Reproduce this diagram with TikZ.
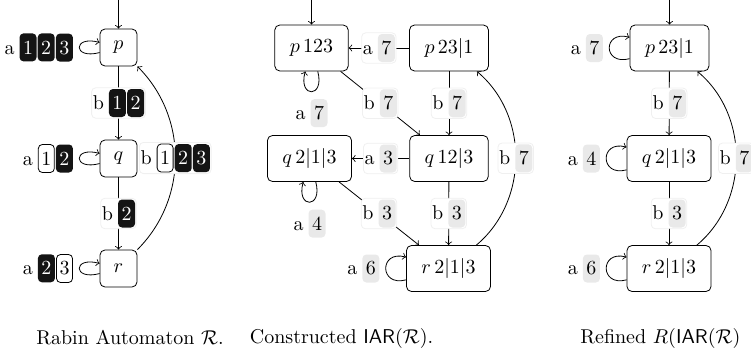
\documentclass[tikz,border=0pt]{standalone}
\usepackage{amsmath}
\definecolor{taggray}{gray}{0.915}
\tikzset{
  sbox/.style={draw, rounded corners=2.5pt, minimum size=18.5pt, inner sep=0pt},
  wbox/.style={draw, rounded corners=2.5pt, minimum height=23pt, inner xsep=7.5pt, inner ysep=0pt},
  elab/.style={fill=white, draw=black!6, rounded corners=2pt, inner sep=0.6pt},
  llab/.style={inner sep=3pt},
  digbox/.style={rounded corners=2pt, minimum height=14pt, minimum width=8.5pt, inner sep=0pt},
  sloop/.style={distance=14pt},
}
% colour-coded priority boxes set inline in the labels
\newcommand\digk[1]{\tikz[baseline=(dgt.base)]\node[digbox,fill=black!92,text=white](dgt){#1};}
\newcommand\digw[1]{\tikz[baseline=(dgt.base)]\node[digbox,draw,fill=white,minimum width=8pt](dgt){#1};}
\newcommand\digg[1]{\tikz[baseline=(dgt.base)]\node[digbox,fill=taggray](dgt){#1};}
\newcommand\dsep{\hspace{0.6pt}}
\newcommand\lsep{\hspace{2.5pt}}
\begin{document}
\begin{tikzpicture}[x=0.5pt,y=0.5pt]
\useasboundingbox (0,0) rectangle (751,-354);

% ---- Rabin automaton
\node[sbox] (p) at (118.5,-47.5) {$p$};
\node[sbox] (q) at (118.5,-158.5) {$q$};
\node[sbox] (r) at (118.5,-268.5) {$r$};
\coordinate (i1) at (118.5,0);
\draw[->] (i1) -- (p);
\draw[->] (p) to[loop left,sloop] node[llab,left] (lp) {a\lsep\digk{1}\dsep\digk{2}\dsep\digk{3}} (p);
\draw[->] (q) to[loop left,sloop] node[llab,left] (lq) {a\lsep\digw{1}\dsep\digk{2}} (q);
\draw[->] (r) to[loop left,sloop] node[llab,left] (lr) {a\lsep\digk{2}\dsep\digw{3}} (r);
\draw[->] (p) -- node[elab] (lpq) {b\lsep\digk{1}\dsep\digk{2}} (q);
\draw[->] (q) -- node[elab] (lqr) {b\lsep\digk{2}} (r);
\draw[->] (r) to[out=45,in=-45] node[elab] (lrp) {b\lsep\digw{1}\dsep\digk{2}\dsep\digk{3}} (p);

% ---- constructed IAR
\node[wbox] (pa) at (311.5,-48) {$p\,123$};
\node[wbox] (pb) at (449,-48) {$p\,23|1$};
\node[wbox] (qa) at (309.5,-158.5) {$q\,2|1|3$};
\node[wbox] (qb) at (449,-158.5) {$q\,12|3$};
\node[wbox] (rb) at (448.5,-268.5) {$r\,2|1|3$};
\coordinate (i2) at (311.5,0);
\draw[->] (i2) -- (pa);
\draw[->] (pb) -- node[elab] (l21) {a\lsep\digg{7}} (pa);
\draw[->] (pa) to[loop below,sloop] node[llab,below=0.5pt] (l22) {a\lsep\digg{7}} (pa);
\draw[->] (pa) -- node[elab] (l23) {b\lsep\digg{7}} (qb);
\draw[->] (pb) -- node[elab] (l24) {b\lsep\digg{7}} (qb);
\draw[->] (qb) -- node[elab] (l25) {a\lsep\digg{3}} (qa);
\draw[->] (qa) to[loop below,sloop] node[llab,below=0.5pt] (l26) {a\lsep\digg{4}} (qa);
\draw[->] (qa) -- node[elab] (l27) {b\lsep\digg{3}} (rb);
\draw[->] (qb) -- node[elab] (l28) {b\lsep\digg{3}} (rb);
\draw[->] (rb) to[loop left,sloop] node[llab,left] (l29) {a\lsep\digg{6}} (rb);
\draw[->] (rb) to[out=40,in=-40] node[elab] (l2a) {b\lsep\digg{7}} (pb);

% ---- refined automaton
\node[wbox] (pc) at (669.5,-48) {$p\,23|1$};
\node[wbox] (qc) at (669,-158.5) {$q\,2|1|3$};
\node[wbox] (rc) at (669,-268.5) {$r\,2|1|3$};
\coordinate (i3) at (669.5,0);
\draw[->] (i3) -- (pc);
\draw[->] (pc) to[loop left,sloop] node[llab,left] (l31) {a\lsep\digg{7}} (pc);
\draw[->] (qc) to[loop left,sloop] node[llab,left] (l32) {a\lsep\digg{4}} (qc);
\draw[->] (rc) to[loop left,sloop] node[llab,left] (l33) {a\lsep\digg{6}} (rc);
\draw[->] (pc) -- node[elab] (l34) {b\lsep\digg{7}} (qc);
\draw[->] (qc) -- node[elab] (l35) {b\lsep\digg{3}} (rc);
\draw[->] (rc) to[out=40,in=-40] node[elab] (l36) {b\lsep\digg{7}} (pc);

% ---- captions
\node (cap1) at (130,-338) {Rabin Automaton $\mathcal{R}$.};
\node (cap2) at (341.5,-338) {Constructed $\mathsf{IAR}(\mathcal{R})$.};
\node[anchor=west,inner sep=0pt] (cap3) at (580,-338) {Refined $R(\mathsf{IAR}(\mathcal{R})$};
\end{tikzpicture}
\end{document}
